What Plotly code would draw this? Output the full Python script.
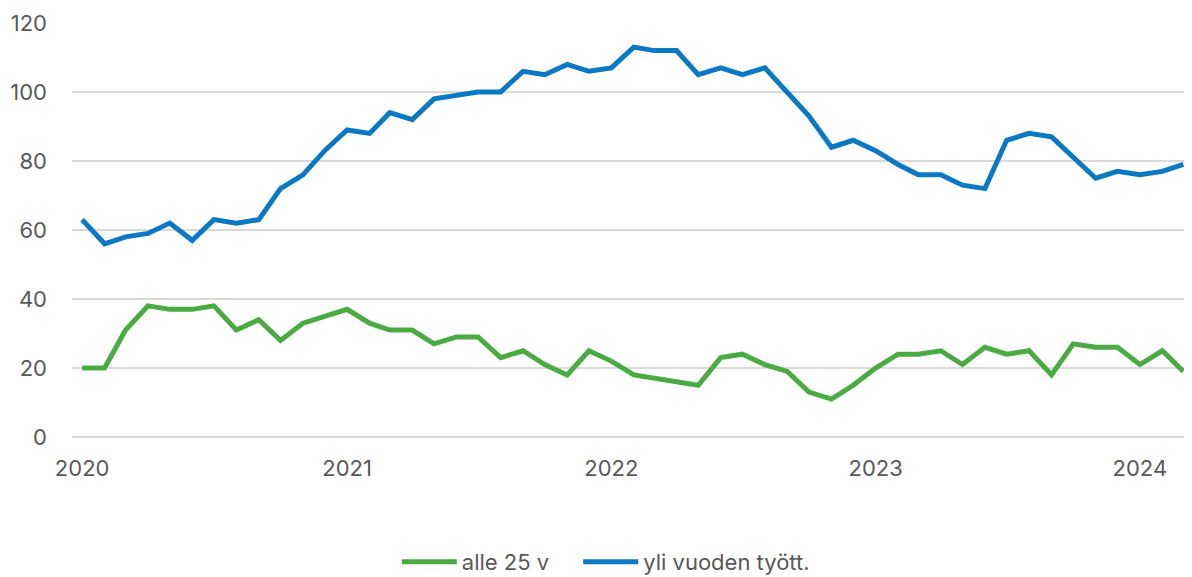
import plotly.graph_objects as go

months = [f"{y}-{m:02d}-01" for y in range(2020, 2025) for m in range(1, 13)][:51]

alle_25 = [20, 20, 31, 38, 37, 37, 38, 31, 34, 28, 33, 35,
           37, 33, 31, 31, 27, 29, 29, 23, 25, 21, 18, 25,
           22, 18, 17, 16, 15, 23, 24, 21, 19, 13, 11, 15,
           20, 24, 24, 25, 21, 26, 24, 25, 18, 27, 26, 26,
           21, 25, 19]

yli_vuoden = [63, 56, 58, 59, 62, 57, 63, 62, 63, 72, 76, 83,
              89, 88, 94, 92, 98, 99, 100, 100, 106, 105, 108, 106,
              107, 113, 112, 112, 105, 107, 105, 107, 100, 93, 84, 86,
              83, 79, 76, 76, 73, 72, 86, 88, 87, 81, 75, 77,
              76, 77, 79]

tick_vals = ["2020-01-01", "2021-01-01", "2022-01-01", "2023-01-01", "2024-01-01"]
tick_text = ["2020", "2021", "2022", "2023", "2024"]

fig = go.Figure()
fig.add_trace(go.Scatter(x=months, y=alle_25, mode="lines", name="alle 25 v",
                         line=dict(color="#4BAB43", width=5), legend="legend"))
fig.add_trace(go.Scatter(x=months, y=yli_vuoden, mode="lines", name="yli vuoden tyött.",
                         line=dict(color="#0A78C2", width=5), legend="legend2"))

font_family = "Inter, 'Open Sans', sans-serif"
leg_common = dict(orientation="h", yanchor="middle", y=-0.302, xanchor="left",
                  font=dict(size=22, color="#595959"), itemwidth=55,
                  bgcolor="rgba(0,0,0,0)", tracegroupgap=0)
# page body has an 8px margin: figure is sized/placed to fit the 1192x577 window
fig.update_layout(
    width=1184, height=569,
    margin=dict(l=64, r=0, t=15, b=140, autoexpand=False),
    paper_bgcolor="white", plot_bgcolor="white",
    font=dict(family=font_family, size=22, color="#595959"),
    showlegend=True,
    legend=dict(leg_common, x=0.29),
    legend2=dict(leg_common, x=0.452),
    xaxis=dict(type="date", range=["2019-12-18", "2024-03-13"],
               tickvals=tick_vals, ticktext=tick_text, automargin=False,
               showgrid=False, zeroline=False, showline=False,
               ticks="", ticklabelstandoff=16),
    yaxis=dict(range=[0, 120], tickvals=[0, 20, 40, 60, 80, 100, 120], automargin=False,
               showgrid=True, gridcolor="#D9D9D9", gridwidth=1.5,
               zeroline=True, zerolinecolor="#D9D9D9", zerolinewidth=1.5,
               showline=False, ticks="", ticklabelstandoff=24),
)

fig.write_html("out.html")
